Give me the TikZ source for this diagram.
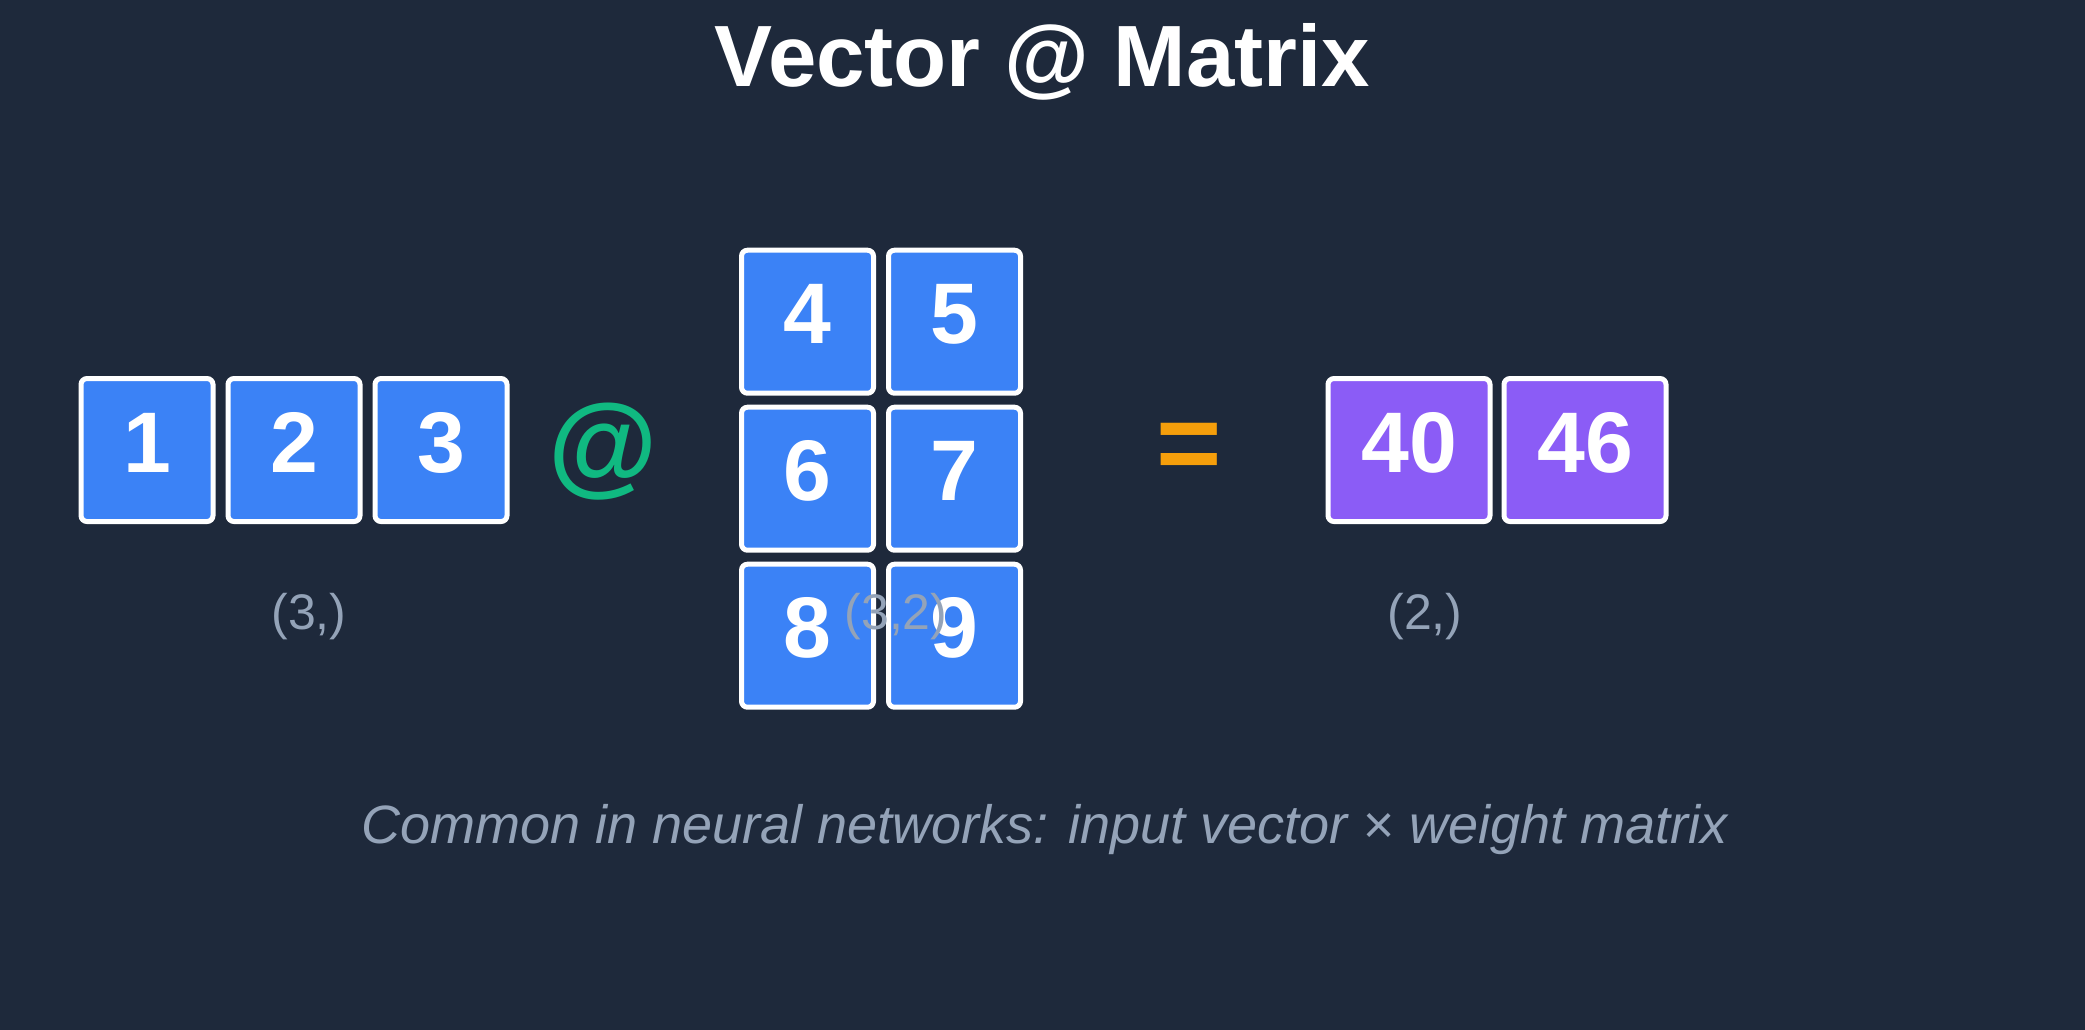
\documentclass[tikz,border=0pt]{standalone}
\usepackage{fontspec}
\setmainfont{Liberation Sans}
\usetikzlibrary{positioning}

\definecolor{bgslate}{HTML}{1E293B}
\definecolor{cellblue}{HTML}{3B82F6}
\definecolor{cellpurple}{HTML}{8B5CF6}
\definecolor{opgreen}{HTML}{10B981}
\definecolor{oporange}{HTML}{F59E0B}
\definecolor{shapegray}{HTML}{94A3B8}

\begin{document}
\begin{tikzpicture}[
  x=1pt, y=1pt,
  cell/.style={draw=white, line width=5pt, rounded corners=6pt,
    minimum width=132pt, minimum height=143pt, inner sep=0pt,
    text=white, text height=62pt, text depth=18pt,
    font=\fontsize{86}{100}\selectfont\bfseries},
  vcell/.style={cell, fill=cellblue},
  mcell/.style={cell, fill=cellblue},
  rcell/.style={cell, fill=cellpurple, minimum width=162pt},
  optext/.style={anchor=base, font=\fontsize{112}{130}\selectfont\bfseries},
  shapetext/.style={anchor=base, text=shapegray, font=\fontsize{50}{60}\selectfont},
]

\useasboundingbox (0,0) rectangle (2085,-1029);
\fill[bgslate] (-3,3) rectangle (2088,-1032);

\node[anchor=base, text=white, font=\fontsize{87}{104}\selectfont\bfseries]
  (title) at (1042.5,-86) {Vector @ Matrix};

% input vector
\node[vcell] (v1) at (147,-450) {1};
\node[vcell, right=10pt of v1] (v2) {2};
\node[vcell, right=10pt of v2] (v3) {3};

\node[optext, text=opgreen] (at) at (603,-482) {@};

% weight matrix
\node[mcell] (m11) at (807.5,-321.7) {4};
\node[mcell, right=10pt of m11] (m12) {5};
\node[mcell, below=9pt of m11] (m21) {6};
\node[mcell, right=10pt of m21] (m22) {7};
\node[mcell, below=9pt of m21] (m31) {8};
\node[mcell, right=10pt of m31] (m32) {9};

\node[optext, text=oporange] (eq) at (1189.5,-481) {=};

% result
\node[rcell] (r1) at (1409,-450) {40};
\node[rcell, right=9pt of r1] (r2) {46};

\node[shapetext] (vshape) at (309,-629) {(3,)};
\node[shapetext] (mshape) at (896,-629) {(3,2)};
\node[shapetext] (rshape) at (1425,-629) {(2,)};

\node[anchor=base, text=shapegray, font=\fontsize{54}{65}\selectfont\itshape]
  (caption) at (1044.5,-843) {Common in neural networks: input vector × weight matrix};

\end{tikzpicture}
\end{document}
